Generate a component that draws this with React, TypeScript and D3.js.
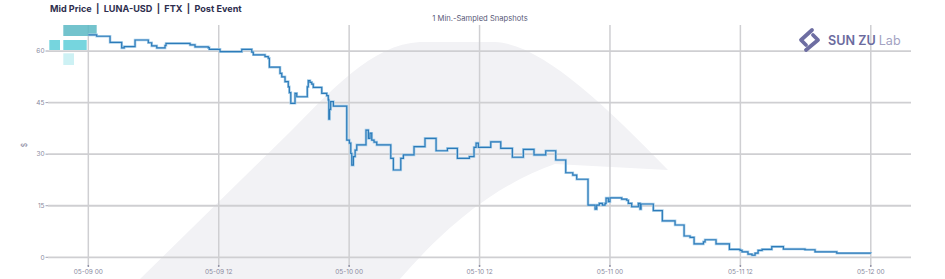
import React from "react";
import * as d3 from "d3";

const W = 945;
const H = 279;

const titleText = "Mid Price  |  LUNA-USD  |  FTX  |  Post Event";
const subtitleText = "1 Min.-Sampled Snapshots";

// hours since 2022-05-09 00:00
const hours = [0, 0.77, 2.0, 3.07, 3.3, 4.3, 5.52, 5.83, 6.3, 7.06, 7.15, 9.36, 9.82, 11.04, 11.13, 12.12, 14.12, 15.04, 15.18, 16.26, 16.56, 16.66, 17.64, 17.8, 18.1, 18.4, 18.5, 18.63, 19.02, 19.18, 20.15, 20.24, 20.4, 20.56, 20.7, 21.48, 21.94, 22.08, 22.13, 22.2, 22.3, 22.55, 23.78, 24.02, 24.15, 24.24, 24.39, 24.55, 24.7, 25.55, 25.77, 25.92, 26.08, 26.29, 26.54, 27.83, 28.07, 28.75, 28.99, 29.97, 30.98, 32.0, 33.04, 33.96, 35.06, 35.49, 35.68, 35.89, 37.03, 37.95, 39.02, 40.03, 41.01, 42.09, 43.01, 43.93, 44.58, 44.94, 45.98, 46.63, 46.78, 47.02, 47.3, 47.55, 47.64, 47.85, 48.0, 49.08, 49.54, 49.69, 50.0, 50.61, 50.77, 50.86, 51.99, 52.82, 53.99, 54.82, 55.37, 55.74, 56.6, 56.75, 57.76, 58.99, 59.97, 60.15, 60.7, 61.07, 61.35, 61.63, 62.0, 62.89, 63.96, 65.95, 66.87, 68.87, 72.0];
const midPrice = [64.7, 64.3, 62.5, 60.9, 61.3, 63.2, 62.4, 61.5, 60.9, 61.6, 62.2, 61.8, 61.2, 61.0, 60.5, 59.8, 60.5, 59.7, 58.9, 58.4, 57.9, 55.3, 53.5, 52.5, 51.1, 49.6, 47.9, 44.8, 47.7, 46.7, 49.6, 51.4, 50.9, 50.4, 49.4, 47.7, 47.0, 45.8, 40.2, 43.0, 45.3, 44.0, 34.1, 33.2, 30.2, 26.8, 29.3, 31.2, 32.7, 37.0, 34.6, 36.1, 34.1, 33.5, 32.7, 28.8, 25.4, 28.8, 29.8, 32.2, 34.6, 31.0, 31.7, 28.8, 29.3, 32.0, 33.2, 32.0, 33.6, 31.7, 29.1, 31.4, 29.8, 31.0, 28.3, 24.6, 23.9, 22.7, 15.2, 14.0, 15.2, 15.7, 15.2, 15.7, 17.2, 16.2, 17.3, 16.9, 16.6, 15.7, 14.7, 15.7, 14.0, 15.5, 13.6, 10.6, 9.4, 6.2, 5.8, 3.9, 4.5, 5.1, 3.9, 2.3, 2.0, 1.6, 0.9, 0.6, 1.2, 2.0, 2.3, 3.1, 2.4, 2.2, 1.6, 1.2, 1.15];

const yTicks = [0, 15, 30, 45, 60];
const xTickHours = [0, 12, 24, 36, 48, 60, 72];

const base = new Date(2022, 4, 9, 0, 0, 0).getTime();
const toDate = (h: number) => new Date(base + h * 3600 * 1000);

export default function App() {
  const x = d3.scaleTime().domain([toDate(-3.71), toDate(75.7)]).range([48, 911]);
  const y = d3.scaleLinear().domain([0, 67.57]).range([257.3, 25]);
  const fmt = d3.timeFormat("%m-%d %H");

  const pts = hours.map((h, i) => [toDate(h), midPrice[i]] as [Date, number]);
  const line = d3
    .line<[Date, number]>()
    .x((d) => x(d[0]))
    .y((d) => y(d[1]))
    .curve(d3.curveStepAfter);
  const lineD = line(pts) || "";

  const font = "Inter, Roboto, 'Noto Sans', sans-serif";
  const gridColor = "#cfcfd2";
  const tickColor = "#8a8aa0";

  return (
    <svg width={W} height={H} style={{ position: "absolute", left: 0, top: 0, background: "#fff" }} fontFamily={font}>
      {/* watermark swoosh */}
      <path
        d="M140,279 L290,132 C330,92 372,44 420,42 L495,42 C540,44 600,100 668,170 L555,164 C510,180 460,210 400,279 Z"
        fill="#f2f2f5"
      />
      {/* horizontal grid */}
      {yTicks.map((t) => (
        <line key={"h" + t} x1={48} x2={911} y1={y(t)} y2={y(t)} stroke={gridColor} strokeWidth={1.8} />
      ))}
      {/* vertical grid */}
      {xTickHours.map((h) => (
        <line key={"v" + h} x1={x(toDate(h))} x2={x(toDate(h))} y1={25} y2={266} stroke={gridColor} strokeWidth={1.5} />
      ))}
      {/* y tick labels */}
      {yTicks.map((t) => (
        <g key={"yl" + t}>
          <text x={44.5} y={y(t)} dy="0.35em" textAnchor="end" fontSize={6.5} fill={tickColor}>
            {t}
          </text>
          <line x1={45.5} x2={48} y1={y(t)} y2={y(t)} stroke={tickColor} strokeWidth={0.8} />
        </g>
      ))}
      {/* x tick labels */}
      {xTickHours.map((h) => (
        <g key={"xl" + h}>
          <circle cx={x(toDate(h))} cy={266} r={0.9} fill={tickColor} />
          <text x={x(toDate(h))} y={272} dy="0.35em" textAnchor="middle" fontSize={6.5} fill={tickColor}>
            {fmt(toDate(h))}
          </text>
        </g>
      ))}
      {/* y title */}
      <text transform="translate(25,145) rotate(-90)" textAnchor="middle" dy="0.35em" fontSize={7} fill={tickColor}>
        $
      </text>
      {/* titles */}
      <text x={50} y={11.5} fontSize={9.1} fontWeight={700} fill="#2e2e4e" style={{ whiteSpace: "pre" }} xmlSpace="preserve">
        {titleText}
      </text>
      <text x={480} y={18.5} dy="0.35em" textAnchor="middle" fontSize={7.6} fill="#5a5a78">
        {subtitleText}
      </text>
      {/* legend-like boxes */}
      <rect x={63.3} y={25} width={33.4} height={11} fill="#5ab9c4" opacity={0.85} />
      <rect x={49.3} y={40} width={10.7} height={10} fill="#67d0da" opacity={0.9} />
      <rect x={63.3} y={40} width={23.4} height={10} fill="#67d0da" opacity={0.9} />
      <rect x={63.3} y={53.3} width={10.7} height={11.7} fill="#cdf1f4" />
      {/* data line */}
      <path d={lineD} fill="none" stroke="#a9cfea" strokeWidth={2.6} />
      <path d={lineD} fill="none" stroke="#2c7bb9" strokeWidth={1.2} />
      {/* logo */}
      <g fill="none" stroke="#6e6ea2" strokeWidth={3.8} strokeLinecap="round" strokeLinejoin="round">
        <path d="M812,30 L801,40 L806,45" />
        <path d="M806,50 L818,40 L813,35" />
      </g>
      <text x={828} y={41} dy="0.35em" fontSize={12.6} fontWeight={600} fill="#6b6b9e">
        SUN ZU
        <tspan dx={3} fontWeight={400} fill="#a3a3c2">Lab</tspan>
      </text>
    </svg>
  );
}
